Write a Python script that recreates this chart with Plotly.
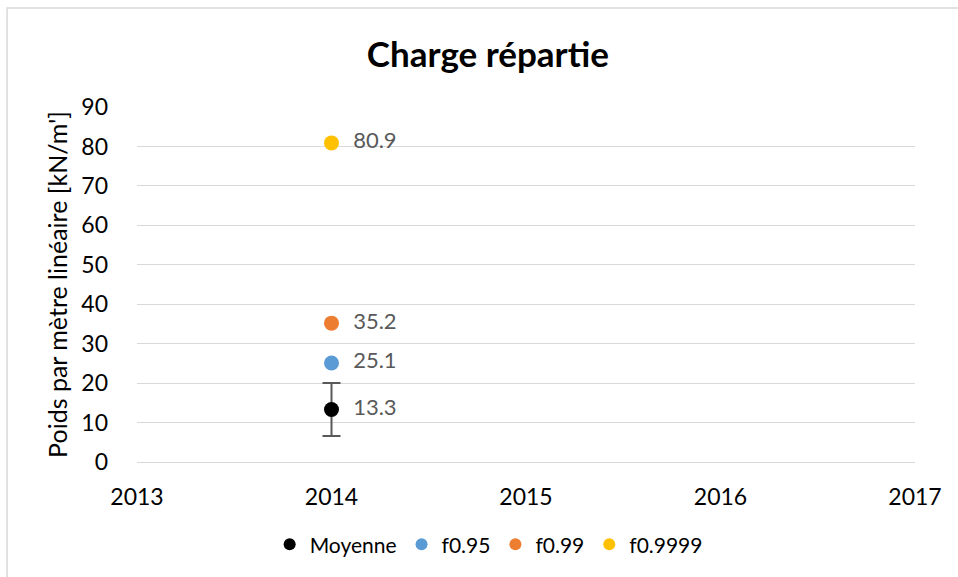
import plotly.graph_objects as go

# Series: one load estimate per statistic, all for year 2014
years = [2014]
moyenne = [13.3]
moyenne_err = [6.7]
f095 = [25.1]
f099 = [35.2]
f09999 = [80.9]

series_names = ["Moyenne", "f0.95", "f0.99", "f0.9999"]
series_values = [moyenne, f095, f099, f09999]
series_colors = ["#000000", "#5B9BD5", "#ED7D31", "#FFC000"]

x_ticks = [2013, 2014, 2015, 2016, 2017]
y_ticks = [0, 10, 20, 30, 40, 50, 60, 70, 80, 90]

FONT = "Lato, Calibri, Carlito, sans-serif"

fig = go.Figure()
for name, vals, col in zip(series_names, series_values, series_colors):
    err = None
    if name == "Moyenne":
        err = dict(type="data", array=moyenne_err, visible=True,
                   color="#595959", thickness=2, width=9)
    fig.add_trace(go.Scatter(
        x=years, y=vals, name=name,
        mode="markers+text",
        marker=dict(color=col, size=15),
        text=["  " + f"{v:.1f}" for v in vals],
        textposition="middle right",
        textfont=dict(color="#595959", size=22, family=FONT),
        error_y=err,
        cliponaxis=False,
    ))

fig.update_layout(
    width=958, height=577,
    margin=dict(l=137, r=43, t=107, b=115),
    paper_bgcolor="white", plot_bgcolor="white",
    font=dict(family=FONT, color="#000000"),
    title=dict(text="<b>Charge répartie</b>", x=0.451, xref="paper",
               xanchor="center", y=0.905, yanchor="middle",
               font=dict(size=35, color="#000000", family=FONT)),
    showlegend=True,
    legend=dict(orientation="h", x=0.452, xanchor="center", y=-0.233,
                yanchor="middle", font=dict(size=21, family=FONT),
                itemsizing="constant", tracegroupgap=0, itemwidth=30),
    xaxis=dict(range=[2013, 2017], tickvals=x_ticks,
               ticktext=[str(t) for t in x_ticks],
               showgrid=False, zeroline=False,
               showline=True, linecolor="#d9d9d9", linewidth=1,
               ticks="", ticklabelstandoff=14,
               tickfont=dict(size=23, color="#000000", family=FONT)),
    yaxis=dict(range=[0, 90], tickvals=y_ticks,
               showgrid=True, gridcolor="#d9d9d9", gridwidth=1,
               zeroline=False, showline=False, ticks="",
               ticklabelstandoff=28,
               tickfont=dict(size=23, color="#000000", family=FONT),
               title=dict(text="Poids par mètre linéaire [kN/m']",
                          font=dict(size=25, color="#000000", family=FONT),
                          standoff=6)),
)

# Outer chart frame (left and top edges visible in the window)
fig.add_shape(type="rect", xref="paper", yref="paper",
              x0=-0.167, x1=1.06, y0=-0.34, y1=1.279,
              line=dict(color="#d9d9d9", width=1.5), layer="below")

fig.write_html("out.html")
